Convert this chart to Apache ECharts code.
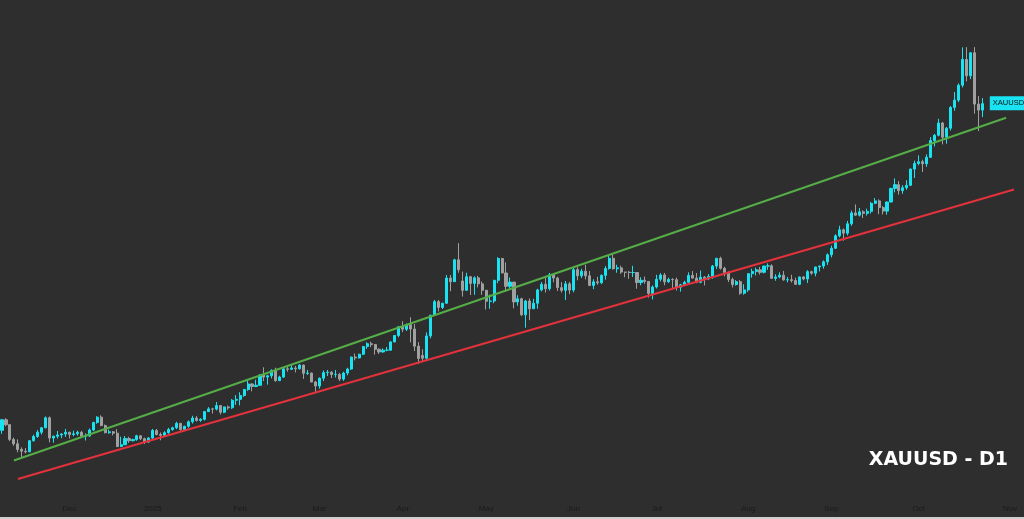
<!DOCTYPE html>
<html>
<head>
<meta charset="utf-8">
<title>XAUUSD - D1</title>
<script src="https://cdn.jsdelivr.net/npm/echarts@6/dist/echarts.min.js"></script>
<style>
  html, body { margin: 0; padding: 0; background: #cfcfcf; }
  #chart { width: 1024px; height: 517px; background: #2e2e2e; }
</style>
</head>
<body>
<div id="chart"></div>
<script>
// trading days (weekdays, market holidays removed)
const firstDay = '2024-11-07'
const lastDay = '2025-11-05'
const holidays = ['2024-12-25', '2025-01-01', '2025-04-18']
const monthNames = ['2025', 'Feb', 'Mar', 'Apr', 'May', 'Jun', 'Jul', 'Aug', 'Sep', 'Oct', 'Nov', 'Dec']

// daily candles: [open, close, low, high]
const ohlc = [
  // Nov 2024
  [2659, 2706, 2643, 2710], [2706, 2684, 2677, 2713], [2684, 2618, 2610, 2686], [2618, 2598, 2589, 2626],
  [2598, 2573, 2560, 2618], [2573, 2565, 2537, 2582], [2565, 2562, 2555, 2579], [2562, 2612, 2561, 2614],
  [2612, 2631, 2608, 2639], [2631, 2650, 2625, 2660], [2650, 2670, 2640, 2674], [2670, 2715, 2668, 2721],
  [2715, 2624, 2605, 2721], [2624, 2632, 2603, 2635], [2632, 2638, 2622, 2656], [2638, 2642, 2623, 2645],
  [2642, 2650, 2629, 2665],
  // Dec 2024
  [2650, 2640, 2622, 2652], [2640, 2643, 2632, 2657], [2643, 2650, 2635, 2657], [2650, 2632, 2625, 2656],
  [2632, 2633, 2613, 2645], [2633, 2660, 2630, 2667], [2660, 2694, 2655, 2697], [2694, 2718, 2688, 2722],
  [2718, 2680, 2677, 2726], [2680, 2648, 2645, 2685], [2648, 2652, 2643, 2662], [2652, 2646, 2636, 2656],
  [2646, 2586, 2583, 2664], [2586, 2594, 2583, 2630], [2594, 2622, 2592, 2633], [2622, 2612, 2602, 2630],
  [2612, 2617, 2609, 2621], [2617, 2634, 2612, 2639], [2634, 2621, 2615, 2637], [2621, 2606, 2597, 2626],
  [2606, 2624, 2603, 2628],
  // Jan 2025
  [2624, 2658, 2620, 2665], [2658, 2640, 2636, 2665], [2640, 2636, 2614, 2649], [2636, 2648, 2631, 2655],
  [2648, 2662, 2643, 2670], [2662, 2670, 2657, 2675], [2670, 2690, 2664, 2697], [2690, 2662, 2657, 2692],
  [2662, 2677, 2659, 2679], [2677, 2697, 2670, 2703], [2697, 2714, 2689, 2724], [2714, 2703, 2698, 2723],
  [2703, 2708, 2697, 2713], [2708, 2743, 2703, 2746], [2743, 2755, 2742, 2763], [2755, 2754, 2734, 2760],
  [2754, 2770, 2748, 2786], [2770, 2740, 2730, 2772], [2740, 2764, 2736, 2765], [2764, 2760, 2751, 2770],
  [2760, 2794, 2755, 2799], [2794, 2798, 2773, 2817],
  // Feb 2025
  [2798, 2815, 2771, 2830], [2815, 2842, 2809, 2845], [2842, 2867, 2836, 2882], [2867, 2856, 2834, 2870],
  [2856, 2861, 2853, 2886], [2861, 2907, 2860, 2911], [2907, 2898, 2880, 2942], [2898, 2904, 2864, 2908],
  [2904, 2928, 2892, 2933], [2928, 2882, 2877, 2940], [2882, 2898, 2880, 2904], [2898, 2935, 2895, 2937],
  [2935, 2933, 2922, 2947], [2933, 2939, 2930, 2954], [2939, 2935, 2919, 2948], [2935, 2952, 2932, 2956],
  [2952, 2915, 2890, 2954], [2915, 2916, 2908, 2930], [2916, 2876, 2875, 2918], [2876, 2858, 2832, 2881],
  // Mar 2025
  [2858, 2893, 2846, 2896], [2893, 2918, 2880, 2928], [2918, 2920, 2903, 2930], [2920, 2910, 2894, 2925],
  [2910, 2910, 2896, 2930], [2910, 2889, 2880, 2916], [2889, 2916, 2881, 2922], [2916, 2934, 2906, 2940],
  [2934, 2988, 2930, 2990], [2988, 2984, 2973, 3004], [2984, 3001, 2982, 3002], [3001, 3035, 2997, 3038],
  [3035, 3048, 3025, 3055], [3048, 3044, 3033, 3057], [3044, 3023, 2999, 3047], [3023, 3011, 3002, 3027],
  [3011, 3019, 3008, 3027], [3019, 3019, 3014, 3033], [3019, 3056, 3016, 3059], [3056, 3085, 3055, 3087],
  [3085, 3124, 3077, 3128],
  // Apr 2025
  [3124, 3113, 3100, 3149], [3113, 3134, 3105, 3139], [3134, 3114, 3054, 3167], [3114, 3037, 3015, 3136],
  [3037, 2982, 2957, 3055], [2995, 2983, 2968, 3023], [2983, 3083, 2970, 3099], [3083, 3176, 3072, 3178],
  [3176, 3237, 3174, 3245], [3237, 3211, 3193, 3245], [3211, 3230, 3204, 3232], [3230, 3343, 3228, 3357],
  [3343, 3327, 3284, 3357], [3327, 3425, 3326, 3430], [3425, 3381, 3367, 3500], [3330, 3288, 3260, 3372],
  [3288, 3349, 3287, 3367], [3349, 3319, 3267, 3352], [3319, 3344, 3268, 3351], [3344, 3317, 3301, 3353],
  [3317, 3288, 3268, 3328],
  // May 2025
  [3288, 3239, 3202, 3290], [3239, 3240, 3205, 3269], [3240, 3333, 3230, 3335], [3333, 3431, 3320, 3437],
  [3431, 3366, 3365, 3434], [3366, 3306, 3282, 3414], [3306, 3325, 3296, 3346], [3325, 3236, 3207, 3325],
  [3236, 3250, 3219, 3266], [3250, 3178, 3172, 3255], [3178, 3240, 3120, 3245], [3240, 3205, 3154, 3252],
  [3205, 3230, 3205, 3250], [3230, 3290, 3205, 3295], [3290, 3315, 3283, 3325], [3315, 3295, 3278, 3346],
  [3295, 3358, 3287, 3366], [3358, 3343, 3324, 3365], [3343, 3300, 3285, 3349], [3300, 3288, 3278, 3325],
  [3288, 3317, 3245, 3330], [3317, 3289, 3271, 3326],
  // Jun 2025
  [3289, 3381, 3279, 3393], [3381, 3353, 3333, 3392], [3353, 3374, 3343, 3385], [3374, 3353, 3337, 3403],
  [3353, 3310, 3307, 3375], [3310, 3326, 3293, 3338], [3326, 3322, 3313, 3349], [3322, 3355, 3316, 3360],
  [3355, 3386, 3336, 3397], [3386, 3432, 3381, 3446], [3432, 3385, 3381, 3452], [3385, 3389, 3367, 3403],
  [3389, 3370, 3362, 3399], [3370, 3369, 3347, 3371], [3369, 3368, 3340, 3375], [3368, 3368, 3348, 3398],
  [3368, 3323, 3295, 3368], [3323, 3333, 3311, 3347], [3333, 3328, 3318, 3350], [3328, 3274, 3255, 3329],
  [3274, 3303, 3247, 3310],
  // Jul 2025
  [3303, 3338, 3296, 3358], [3338, 3357, 3328, 3365], [3357, 3326, 3311, 3366], [3326, 3337, 3322, 3345],
  [3337, 3336, 3296, 3343], [3336, 3302, 3287, 3345], [3302, 3313, 3282, 3317], [3313, 3324, 3310, 3331],
  [3324, 3355, 3322, 3369], [3355, 3343, 3341, 3375], [3343, 3324, 3320, 3366], [3324, 3347, 3320, 3377],
  [3347, 3339, 3310, 3352], [3339, 3350, 3334, 3361], [3350, 3397, 3340, 3402], [3397, 3432, 3384, 3433],
  [3432, 3387, 3381, 3439], [3387, 3368, 3351, 3394], [3368, 3337, 3325, 3373], [3337, 3314, 3301, 3345],
  [3314, 3327, 3309, 3334], [3327, 3275, 3268, 3334], [3275, 3290, 3268, 3315],
  // Aug 2025
  [3290, 3363, 3281, 3363], [3363, 3373, 3345, 3385], [3373, 3380, 3355, 3390], [3380, 3369, 3359, 3393],
  [3369, 3397, 3364, 3398], [3397, 3398, 3380, 3409], [3398, 3342, 3341, 3405], [3342, 3348, 3331, 3360],
  [3348, 3356, 3342, 3369], [3356, 3335, 3331, 3375], [3335, 3336, 3324, 3348], [3336, 3332, 3323, 3358],
  [3332, 3315, 3312, 3345], [3315, 3348, 3311, 3350], [3348, 3339, 3333, 3352], [3339, 3372, 3321, 3379],
  [3372, 3365, 3358, 3376], [3365, 3393, 3351, 3394], [3393, 3397, 3373, 3399], [3397, 3416, 3385, 3423],
  [3416, 3448, 3402, 3454],
  // Sep 2025
  [3448, 3477, 3436, 3489], [3477, 3533, 3474, 3540], [3533, 3560, 3526, 3578], [3560, 3545, 3511, 3566],
  [3545, 3587, 3535, 3600], [3587, 3636, 3578, 3646], [3636, 3626, 3623, 3674], [3626, 3641, 3620, 3658],
  [3641, 3634, 3613, 3648], [3634, 3643, 3624, 3655], [3643, 3679, 3633, 3685], [3679, 3690, 3676, 3703],
  [3690, 3660, 3630, 3697], [3660, 3644, 3629, 3667], [3644, 3685, 3628, 3687], [3685, 3746, 3684, 3749],
  [3746, 3763, 3728, 3791], [3763, 3736, 3718, 3779], [3736, 3749, 3722, 3761], [3749, 3760, 3740, 3783],
  [3760, 3833, 3757, 3835], [3833, 3858, 3793, 3871],
  // Oct 2025
  [3858, 3866, 3850, 3895], [3866, 3857, 3820, 3875], [3857, 3886, 3843, 3899], [3886, 3961, 3883, 3977],
  [3961, 3985, 3935, 3991], [3985, 4040, 3980, 4059], [4040, 3976, 3944, 4045], [3976, 4017, 3947, 4022],
  [4017, 4110, 4006, 4116], [4110, 4143, 4095, 4179], [4143, 4210, 4134, 4218], [4210, 4326, 4200, 4380],
  [4326, 4252, 4227, 4381], [4252, 4356, 4237, 4358], [4356, 4125, 4082, 4381], [4125, 4098, 4004, 4161],
  [4098, 4127, 4067, 4152]
]

// trend lines: [date, price] end points
const greenLine = [['2024-11-12', 2523], ['2025-10-31', 4064]]
const redLine = [['2024-11-13', 2440], ['2025-11-04', 3741]]

const symbolName = 'XAUUSD'
const chartTitle = 'XAUUSD - D1'

function tradingDays(from, to) {
  const out = []
  const d = new Date(from + 'T00:00:00Z')
  const end = new Date(to + 'T00:00:00Z')
  while (d <= end) {
    const s = d.toISOString().slice(0, 10)
    const wd = d.getUTCDay()
    if (wd !== 0 && wd !== 6 && holidays.indexOf(s) < 0) out.push(s)
    d.setUTCDate(d.getUTCDate() + 1)
  }
  return out
}

const dates = tradingDays(firstDay, lastDay)
const lastDate = dates[ohlc.length - 1]
const lastClose = ohlc[ohlc.length - 1][1]

const chart = echarts.init(document.getElementById('chart'))

const option = {
  backgroundColor: '#2e2e2e',
  animation: false,
  title: {
    text: chartTitle,
    right: 16,
    top: 451,
    padding: 0,
    textStyle: {
      color: '#ffffff',
      fontSize: 19,
      fontWeight: 'bold',
      fontFamily: 'DejaVu Sans'
    }
  },
  grid: {
    left: -2,
    right: 4,
    top: 0,
    bottom: 18
  },
  xAxis: {
    type: 'category',
    data: dates,
    boundaryGap: true,
    axisLine: { show: false },
    axisTick: { show: false },
    splitLine: { show: false },
    axisLabel: {
      color: '#1b1b1b',
      fontSize: 8,
      fontFamily: 'Liberation Sans',
      margin: 6,
      interval: function (index, value) {
        return index > 0 && value.slice(5, 7) !== dates[index - 1].slice(5, 7)
      },
      formatter: function (value) {
        return monthNames[parseInt(value.slice(5, 7), 10) - 1]
      }
    }
  },
  yAxis: {
    type: 'value',
    min: 2350,
    max: 4593,
    show: false,
    splitLine: { show: false }
  },
  series: [
    {
      name: symbolName,
      type: 'candlestick',
      data: ohlc,
      barWidth: 2.6,
      itemStyle: {
        color: '#19e3f2',
        color0: '#a0a0a0',
        borderColor: '#19e3f2',
        borderColor0: '#a0a0a0',
        borderWidth: 1
      },
      markLine: {
        silent: true,
        symbol: ['none', 'none'],
        label: { show: false },
        data: [
          [
            { coord: greenLine[0], lineStyle: { color: '#55ad47', width: 2, type: 'solid' } },
            { coord: greenLine[1] }
          ],
          [
            { coord: redLine[0], lineStyle: { color: '#e3323c', width: 2, type: 'solid' } },
            { coord: redLine[1] }
          ]
        ]
      },
      markPoint: {
        silent: true,
        symbol: 'rect',
        symbolSize: 1,
        itemStyle: { color: 'rgba(0,0,0,0)' },
        data: [
          {
            coord: [lastDate, lastClose],
            label: {
              show: true,
              formatter: symbolName,
              position: [8, -7],
              align: 'left',
              verticalAlign: 'top',
              color: '#111111',
              fontSize: 7.5,
              lineHeight: 8,
              fontFamily: 'Liberation Sans',
              backgroundColor: '#19e3f2',
              padding: [3, 3, 3, 3]
            }
          }
        ]
      }
    }
  ]
}

chart.setOption(option)
window.addEventListener('resize', function () {
  chart.resize()
})
</script>
</body>
</html>
